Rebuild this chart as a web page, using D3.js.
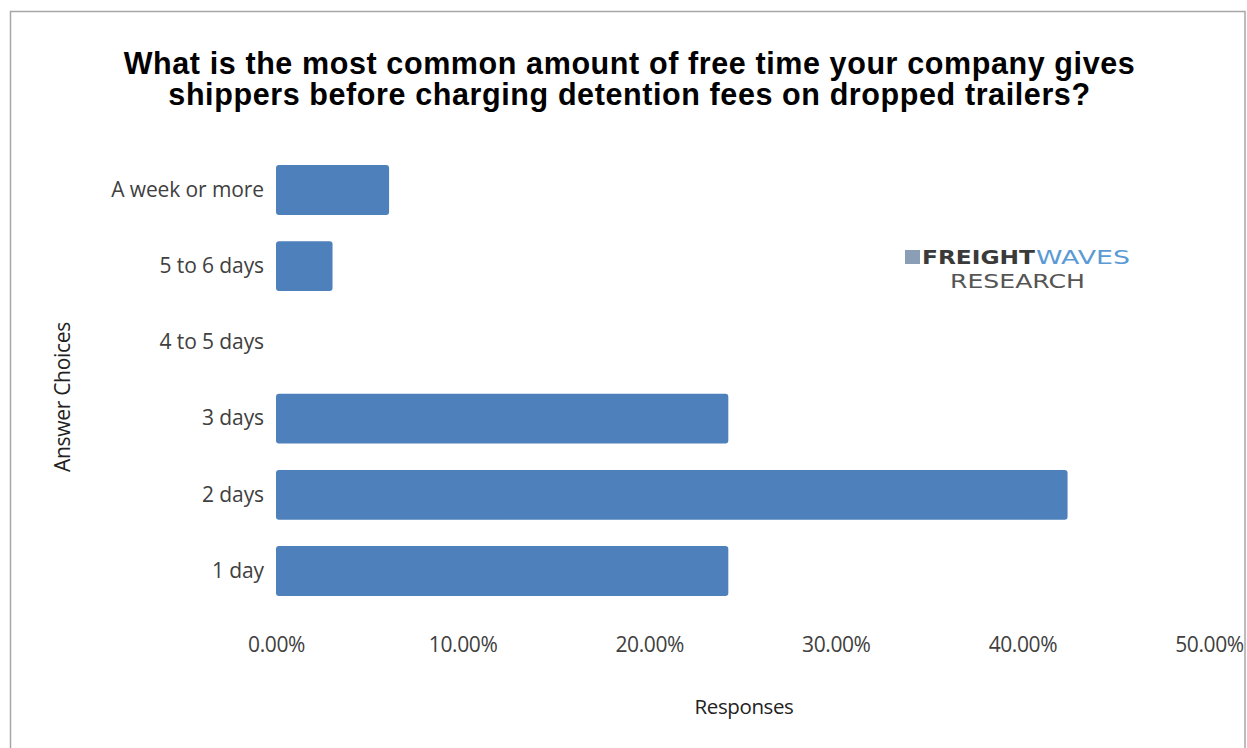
<!DOCTYPE html>
<html><head><meta charset="utf-8">
<script src="https://cdn.jsdelivr.net/npm/d3@7"></script>
<style>body{margin:0;background:#fff;} svg{display:block;}</style>
</head><body>
<script>
const categories = ["A week or more","5 to 6 days","4 to 5 days","3 days","2 days","1 day"];
const values = [0.0606, 0.0303, 0, 0.2424, 0.4242, 0.2424];
const xTicks = [0, 0.1, 0.2, 0.3, 0.4, 0.5];
const titleLines = ["What is the most common amount of free time your company gives","shippers before charging detention fees on dropped trailers?"];

const W = 1247, H = 748;
const svg = d3.select("body").append("svg").attr("width", W).attr("height", H);
svg.append("rect").attr("x",10.5).attr("y",11.5).attr("width",1234.5).attr("height",760)
  .attr("fill","#fff").attr("stroke","#a6a6a6").attr("stroke-width",1.5);

const x = d3.scaleLinear().domain([0,0.5]).range([276,1209]);
const y = d3.scaleBand().domain(categories).range([152,609]).paddingInner(0.345).paddingOuter(0.17);

svg.selectAll("text.title").data(titleLines).join("text")
  .attr("class","title")
  .attr("x",629.5).attr("y",(d,i)=>74+i*31).attr("text-anchor","middle")
  .attr("font-family","Liberation Sans, Arial, sans-serif").attr("font-weight","bold")
  .attr("font-size",30.5).attr("letter-spacing",0.6).attr("fill","#000").text(d=>d);

svg.append("g").selectAll("rect").data(values).join("rect")
  .attr("x",x(0)).attr("y",(d,i)=>y(categories[i]))
  .attr("width",d=>Math.max(0,x(d)-x(0))).attr("height",y.bandwidth())
  .attr("rx",d=>d>0?3:0).attr("fill","#4e80bc")
  .attr("display",d=>d>0?null:"none");

const font = "Open Sans, Noto Sans, sans-serif";
const xAxis = d3.axisBottom(x).tickValues(xTicks).tickFormat(d=>d3.format(".2f")(d*100)+"%").tickSize(0).tickPadding(0);
const gx = svg.append("g").attr("transform","translate(0,637)").call(xAxis);
gx.select(".domain").remove();
gx.selectAll("text").attr("font-family",font).attr("font-size",21).attr("fill","#404040").attr("dy","0.71em").attr("letter-spacing",-0.4);

const yAxis = d3.axisLeft(y).tickSize(0).tickPadding(12);
const gy = svg.append("g").attr("transform","translate(276,0)").call(yAxis);
gy.select(".domain").remove();
gy.selectAll("text").attr("font-family",font).attr("font-size",21).attr("fill","#404040").attr("letter-spacing",-0.1);

svg.append("text").attr("x",744).attr("y",714).attr("text-anchor","middle")
  .attr("font-family",font).attr("font-size",20.5).attr("fill","#222").attr("letter-spacing",-0.4).text("Responses");
svg.append("text").attr("transform","translate(70,397) rotate(-90)").attr("text-anchor","middle")
  .attr("font-family",font).attr("font-size",21).attr("fill","#222").attr("letter-spacing",-0.3).text("Answer Choices");

// logo
const logo = svg.append("g");
logo.append("rect").attr("x",905).attr("y",250).attr("width",15).attr("height",14).attr("fill","#8a9fb5");
logo.append("text").attr("x",922).attr("y",264).attr("font-family","DejaVu Sans, sans-serif")
  .attr("font-weight","bold").attr("font-size",19).attr("fill","#3a3a3a")
  .attr("textLength",113).attr("lengthAdjust","spacingAndGlyphs").text("FREIGHT");
logo.append("text").attr("x",1036).attr("y",264).attr("font-family","DejaVu Sans, sans-serif")
  .attr("font-size",19).attr("fill","#5b9bd5")
  .attr("textLength",94).attr("lengthAdjust","spacingAndGlyphs").text("WAVES");
logo.append("text").attr("x",950).attr("y",288).attr("font-family","DejaVu Sans, sans-serif")
  .attr("font-size",19).attr("fill","#555")
  .attr("textLength",135).attr("lengthAdjust","spacingAndGlyphs").text("RESEARCH");
</script>
</body></html>
